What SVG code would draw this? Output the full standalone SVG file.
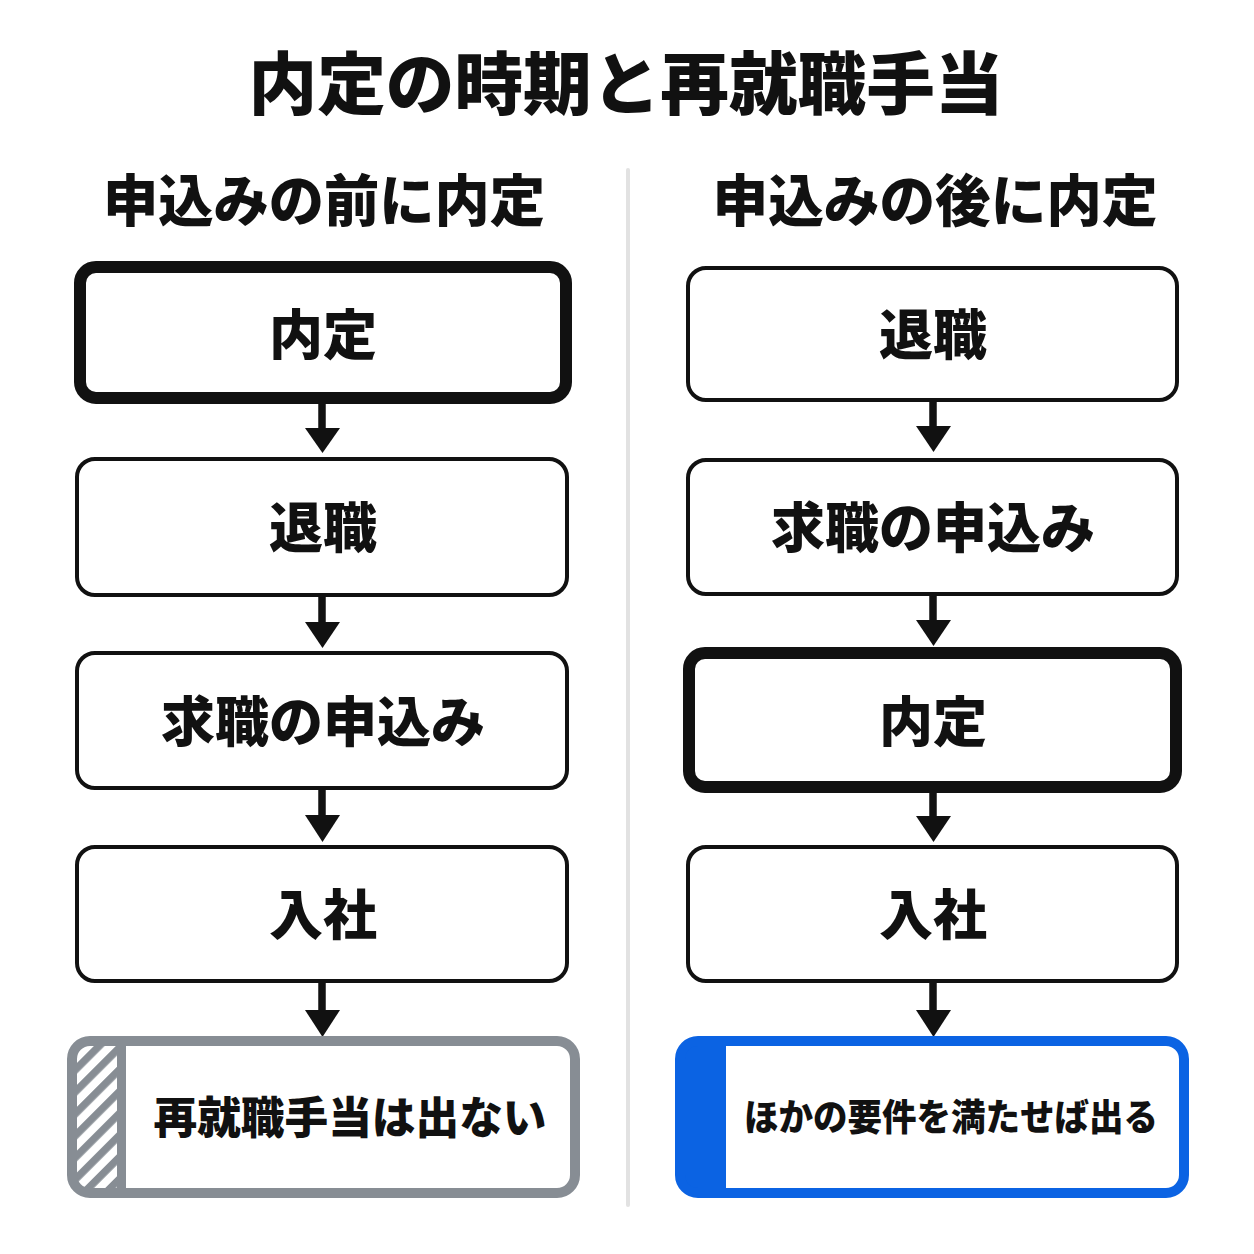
<svg xmlns="http://www.w3.org/2000/svg" width="1254" height="1254" viewBox="0 0 1254 1254">
<style>
text{font-family:"Noto Sans CJK JP","Noto Sans",sans-serif;font-weight:900;fill:#111;text-anchor:middle;dominant-baseline:central}
.box{fill:#fff;stroke:#111;stroke-width:4}
.thick{fill:#fff;stroke:#111;stroke-width:12}
.lbl{font-size:54px}
.shaft{stroke:#111;stroke-width:7.5}
.head{fill:#111}
</style>
<defs>
<pattern id="hatch" patternUnits="userSpaceOnUse" width="15.5" height="15.5" patternTransform="rotate(45)">
<rect width="15.5" height="15.5" fill="#fff"/>
<rect x="0" y="0" width="7.5" height="15.5" fill="#878d94"/>
</pattern>
<clipPath id="clipL"><rect x="72" y="1041" width="503" height="152" rx="18"/></clipPath>
<clipPath id="clipR"><rect x="680" y="1041" width="504" height="152" rx="18"/></clipPath>
</defs>
<rect width="1254" height="1254" fill="#fff"/>
<g id="title"><text x="626" y="79" font-size="68" textLength="755" lengthAdjust="spacingAndGlyphs">内定の時期と再就職手当</text></g>
<g id="divider"><line x1="628" y1="170" x2="628" y2="1205" stroke="#e2e2e2" stroke-width="4" stroke-linecap="round"/></g>
<g id="head-left"><text x="324" y="196" font-size="56" textLength="442" lengthAdjust="spacingAndGlyphs">申込みの前に内定</text></g>
<g id="head-right"><text x="935" y="196" font-size="56" textLength="445" lengthAdjust="spacingAndGlyphs">申込みの後に内定</text></g>

<g id="connectors">
<line class="shaft" x1="322" y1="404" x2="322" y2="430"/><polygon class="head" points="305,428 340,428 322.5,453"/>
<line class="shaft" x1="322" y1="597" x2="322" y2="624"/><polygon class="head" points="305,622 340,622 322.5,648"/>
<line class="shaft" x1="322" y1="790" x2="322" y2="817"/><polygon class="head" points="305,815 340,815 322.5,842"/>
<line class="shaft" x1="322" y1="983" x2="322" y2="1012"/><polygon class="head" points="305,1010 340,1010 322.5,1037"/>
<line class="shaft" x1="933" y1="402" x2="933" y2="428"/><polygon class="head" points="916,426 951,426 933.5,452"/>
<line class="shaft" x1="933" y1="596" x2="933" y2="622"/><polygon class="head" points="916,620 951,620 933.5,646"/>
<line class="shaft" x1="933" y1="793" x2="933" y2="818"/><polygon class="head" points="916,816 951,816 933.5,842"/>
<line class="shaft" x1="933" y1="983" x2="933" y2="1012"/><polygon class="head" points="916,1010 951,1010 933.5,1037"/>
</g>

<g id="l1"><rect class="thick" x="80" y="267" width="486" height="131" rx="16"/><text class="lbl" x="323" y="331">内定</text></g>
<g id="l2"><rect class="box" x="77" y="459" width="490" height="136" rx="18"/><text class="lbl" x="323" y="524">退職</text></g>
<g id="l3"><rect class="box" x="77" y="653" width="490" height="135" rx="18"/><text class="lbl" x="323" y="718">求職の申込み</text></g>
<g id="l4"><rect class="box" x="77" y="847" width="490" height="134" rx="18"/><text class="lbl" x="323" y="911">入社</text></g>
<g id="l5">
<rect x="72" y="1041" width="503" height="152" rx="18" fill="#fff"/>
<g clip-path="url(#clipL)"><rect x="72" y="1041" width="46" height="152" fill="url(#hatch)"/><rect x="117" y="1041" width="9" height="152" fill="#878d94"/></g>
<rect x="72" y="1041" width="503" height="152" rx="18" fill="none" stroke="#878d94" stroke-width="10"/>
<text x="350" y="1115" font-size="44" textLength="393" lengthAdjust="spacingAndGlyphs">再就職手当は出ない</text>
</g>

<g id="r1"><rect class="box" x="688" y="268" width="489" height="132" rx="18"/><text class="lbl" x="933" y="331">退職</text></g>
<g id="r2"><rect class="box" x="688" y="460" width="489" height="134" rx="18"/><text class="lbl" x="933" y="524">求職の申込み</text></g>
<g id="r3"><rect class="thick" x="689" y="653" width="487" height="134" rx="16"/><text class="lbl" x="933" y="718">内定</text></g>
<g id="r4"><rect class="box" x="688" y="847" width="489" height="134" rx="18"/><text class="lbl" x="933" y="911">入社</text></g>
<g id="r5">
<rect x="680" y="1041" width="504" height="152" rx="18" fill="#fff"/>
<g clip-path="url(#clipR)"><rect x="680" y="1041" width="46" height="152" fill="#0b63e3"/></g>
<rect x="680" y="1041" width="504" height="152" rx="18" fill="none" stroke="#0b63e3" stroke-width="10"/>
<text x="951" y="1115" font-size="37" textLength="414" lengthAdjust="spacingAndGlyphs">ほかの要件を満たせば出る</text>
</g>
</svg>
